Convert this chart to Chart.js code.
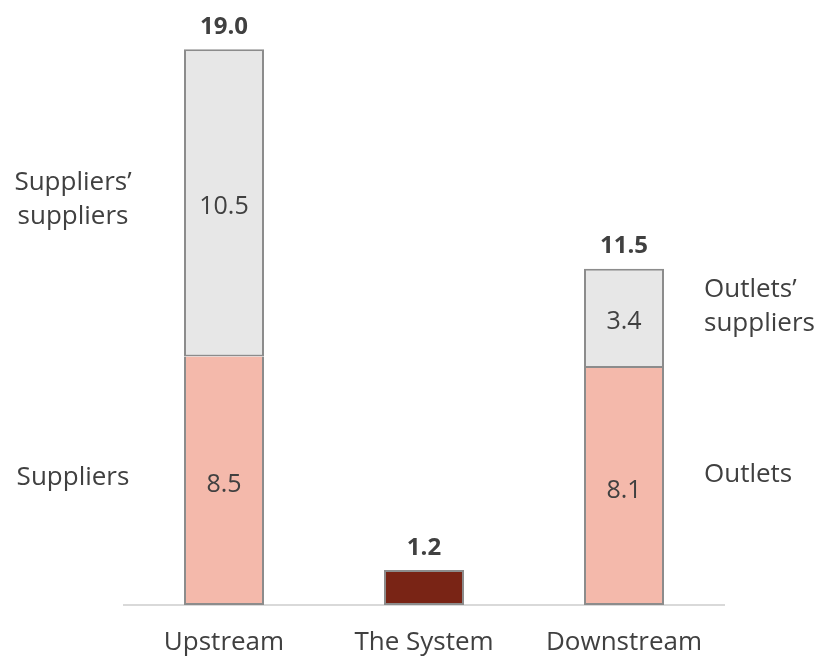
<!DOCTYPE html>
<html>
<head>
<meta charset="utf-8">
<script src="https://cdn.jsdelivr.net/npm/chart.js@4"></script>
<style>
  html, body { margin: 0; padding: 0; background: #fff; overflow: hidden; }
  canvas { display: block; }
</style>
</head>
<body>
<canvas id="chart" width="817" height="662"></canvas>
<script>
// Chart data
const categories = ['Upstream', 'The System', 'Downstream'];
const lowerValues = [8.5, null, 8.1];
const upperValues = [10.5, null, 3.4];
const systemValues = [null, 1.2, null];
const totals = [19.0, 1.2, 11.5];
const sideLabelsLeft = [
  { lines: ['Suppliers\u2019', 'suppliers'], series: 1 },
  { lines: ['Suppliers'], series: 0 }
];
const sideLabelsRight = [
  { lines: ['Outlets\u2019', 'suppliers'], series: 1 },
  { lines: ['Outlets'], series: 0 }
];

const FONT = '"Open Sans", "Noto Sans", sans-serif';
const TEXT = '#404040';

// Draws segment values, totals and side labels
const labelPlugin = {
  id: 'labels',
  afterDatasetsDraw(chart) {
    const ctx = chart.ctx;
    const x = chart.scales.x, y = chart.scales.y;
    ctx.save();
    ctx.fillStyle = TEXT;
    ctx.textAlign = 'center';
    ctx.textBaseline = 'middle';
    ctx.font = '25px ' + FONT;
    [lowerValues, upperValues].forEach((vals, di) => {
      vals.forEach((v, i) => {
        if (v == null) return;
        const base = di === 0 ? 0 : lowerValues[i];
        ctx.fillText(v.toFixed(1), x.getPixelForValue(i), y.getPixelForValue(base + v / 2) + 4);
      });
    });
    ctx.font = 'bold 24px ' + FONT;
    ctx.textBaseline = 'bottom';
    totals.forEach((t, i) => {
      ctx.fillText(t.toFixed(1), x.getPixelForValue(i), y.getPixelForValue(t) - 10);
    });
    ctx.font = '26px ' + FONT;
    ctx.textBaseline = 'middle';
    const lh = 34;
    const mid = (i, s) => s === 0 ? lowerValues[i] / 2 : lowerValues[i] + upperValues[i] / 2;
    sideLabelsLeft.forEach(l => {
      const cy = y.getPixelForValue(mid(0, l.series)) - 3;
      l.lines.forEach((t, k) => {
        ctx.fillText(t, 73, cy + (k - (l.lines.length - 1) / 2) * lh);
      });
    });
    ctx.textAlign = 'left';
    sideLabelsRight.forEach(l => {
      const cy = y.getPixelForValue(mid(2, l.series)) - 12;
      l.lines.forEach((t, k) => {
        ctx.fillText(t, 704, cy + (k - (l.lines.length - 1) / 2) * lh);
      });
    });
    ctx.restore();
  }
};

const barStyle = { borderColor: '#8c8c8c', borderSkipped: false, barPercentage: 0.4, categoryPercentage: 1 };

new Chart(document.getElementById('chart'), {
  type: 'bar',
  data: {
    labels: categories,
    datasets: [
      Object.assign({ data: lowerValues, backgroundColor: '#f4b9ab', borderWidth: { top: 0, left: 2, right: 2, bottom: 2 } }, barStyle),
      Object.assign({ data: upperValues, backgroundColor: '#e7e7e7', borderWidth: 2 }, barStyle),
      Object.assign({ data: systemValues, backgroundColor: '#792415', borderWidth: 2 }, barStyle)
    ]
  },
  options: {
    responsive: false,
    animation: false,
    layout: { padding: { left: 124, right: 93, top: 20, bottom: 0 } },
    plugins: { legend: { display: false }, tooltip: { enabled: false } },
    scales: {
      x: {
        stacked: true,
        grid: { display: false },
        border: { color: '#d9d9d9', width: 2 },
        ticks: { color: TEXT, font: { family: FONT, size: 26 }, padding: 14 },
        afterFit(scale) { scale.height = 57; }
      },
      y: {
        stacked: true,
        display: false,
        min: 0,
        max: 20
      }
    }
  },
  plugins: [labelPlugin]
});
</script>
</body>
</html>
